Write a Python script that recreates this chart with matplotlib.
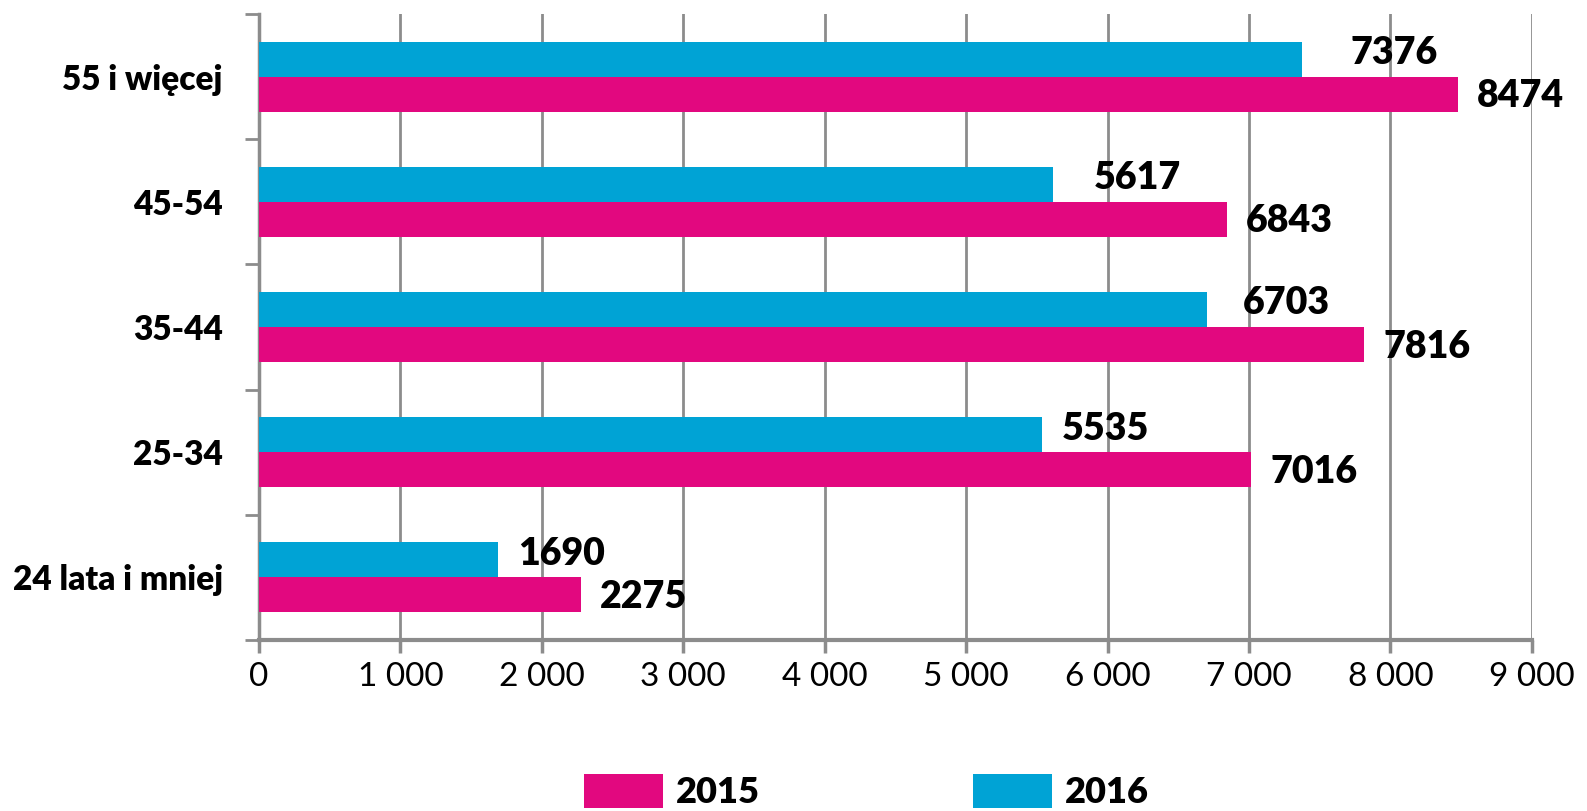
import matplotlib.pyplot as plt
import numpy as np

# age groups, bottom to top
categories = ["24 lata i mniej", "25-34", "35-44", "45-54", "55 i więcej"]
values_2015 = [2275, 7016, 7816, 6843, 8474]
values_2016 = [1690, 5535, 6703, 5617, 7376]
xticks = [0, 1000, 2000, 3000, 4000, 5000, 6000, 7000, 8000, 9000]
xtick_labels = ["0", "1 000", "2 000", "3 000", "4 000", "5 000", "6 000", "7 000", "8 000", "9 000"]

pink = "#E2087F"
blue = "#00A3D5"
grey = "#8C8C8C"

fig = plt.figure(figsize=(15.87, 8.11), dpi=100)
ax = fig.add_axes([0.1632, 0.2109, 0.8021, 0.7718])

y = np.arange(len(categories))
h = 0.28
b15 = ax.barh(y - h / 2, values_2015, height=h, color=pink, label="2015", zorder=3)
b16 = ax.barh(y + h / 2, values_2016, height=h, color=blue, label="2016", zorder=3)

# value labels (the 2016 ones were dragged around a bit in the original)
dx16 = [20, 20, 36, 40, 48]
for yy, v in zip(y, values_2015):
    ax.annotate(str(v), (v, yy - h / 2), xytext=(19, -2), textcoords="offset pixels",
                ha="left", va="center", fontsize=27, fontweight="heavy", family="Lato")
for yy, v, d in zip(y, values_2016, dx16):
    ax.annotate(str(v), (v, yy + h / 2), xytext=(d, 6), textcoords="offset pixels",
                ha="left", va="center", fontsize=27, fontweight="heavy", family="Lato")

ax.set_xlim(0, 9000)
ax.set_ylim(-0.5, len(categories) - 0.5)
ax.set_xticks(xticks)
ax.set_xticklabels(xtick_labels, fontsize=24, family="Lato")
ax.set_yticks(np.arange(len(categories) + 1) - 0.5)
ax.set_yticklabels([])
ax.set_yticks(y, minor=True)
ax.set_yticklabels(categories, minor=True, fontsize=24, fontweight="heavy", family="Lato")
ax.tick_params(axis="y", which="minor", length=0, pad=26)
ax.tick_params(axis="y", which="major", length=10, width=2, color=grey)
ax.tick_params(axis="x", length=9, width=2.5, color=grey, pad=7)

ax.grid(axis="x", color=grey, linewidth=2, zorder=0)
for s in ["top", "right"]:
    ax.spines[s].set_visible(False)
ax.spines["left"].set_color(grey)
ax.spines["left"].set_linewidth(2.5)
ax.spines["bottom"].set_color(grey)
ax.spines["bottom"].set_linewidth(3)

fig.legend(handles=[b15, b16], loc="center", bbox_to_anchor=(0.546, 0.024), ncol=2,
           frameon=False, handlelength=2.2, handleheight=1.1, handletextpad=0.35,
           columnspacing=5.9, prop={"family": "Lato", "weight": "heavy", "size": 26})

fig.savefig("out.png", dpi=100)
